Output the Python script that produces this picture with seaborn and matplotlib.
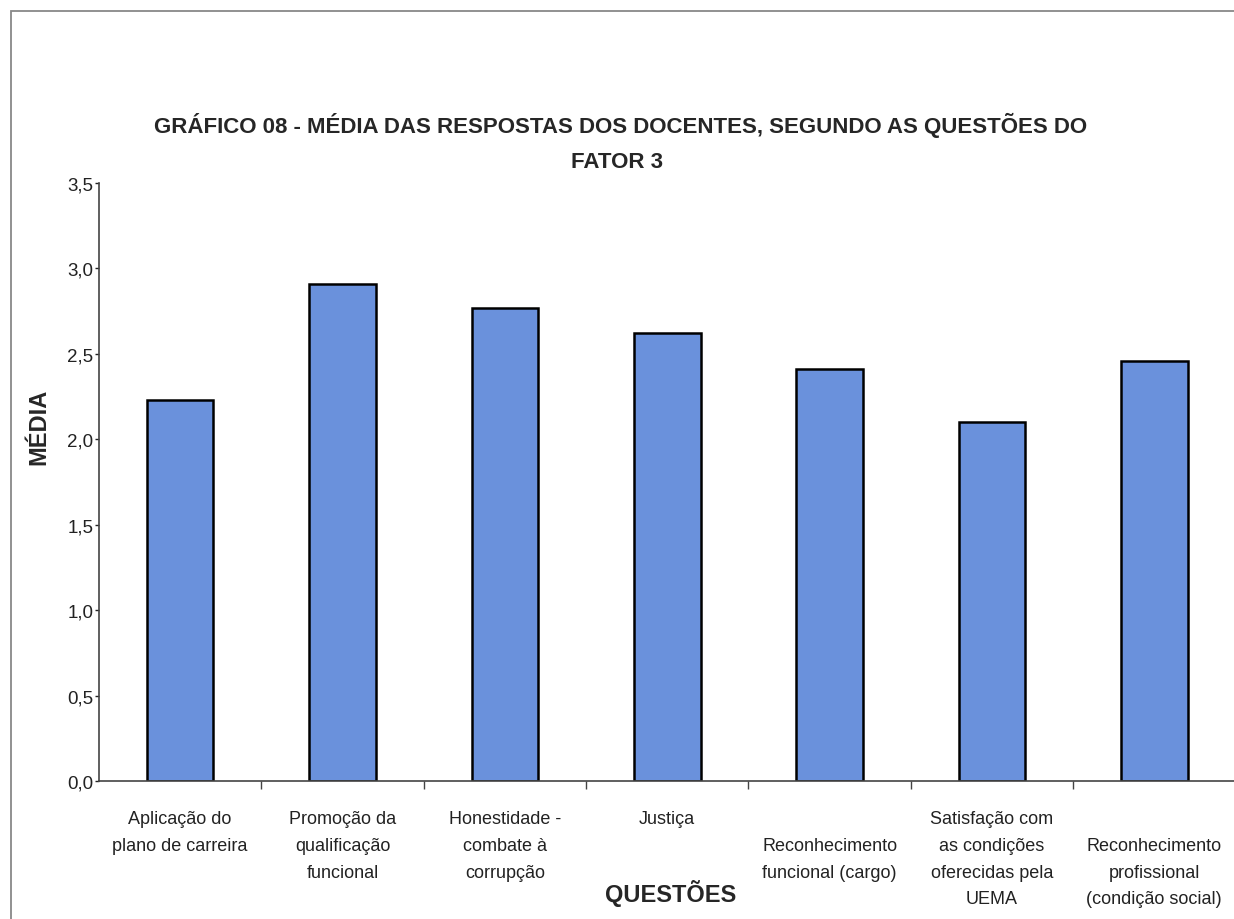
import numpy as np
import matplotlib
matplotlib.use("Agg")
import matplotlib.pyplot as plt
from matplotlib.patches import Rectangle
import seaborn as sns
import pandas as pd

# questoes do fator 3 (blank first line = label pushed down, like in the original)
questoes = [
    "Aplicação do\nplano de carreira",
    "Promoção da\nqualificação\nfuncional",
    "Honestidade -\ncombate à\ncorrupção",
    "Justiça",
    "\nReconhecimento\nfuncional (cargo)",
    "Satisfação com\nas condições\noferecidas pela\nUEMA",
    "\nReconhecimento\nprofissional\n(condição social)",
]
medias = [2.23, 2.91, 2.77, 2.62, 2.41, 2.10, 2.46]
y_ticks = [0.0, 0.5, 1.0, 1.5, 2.0, 2.5, 3.0, 3.5]
y_labels = ["0,0", "0,5", "1,0", "1,5", "2,0", "2,5", "3,0", "3,5"]

titulo1 = "GRÁFICO 08 - MÉDIA DAS RESPOSTAS DOS DOCENTES, SEGUNDO AS QUESTÕES DO"
titulo2 = "FATOR 3"

sns.set_style("white")
plt.rcParams['font.family'] = ['Liberation Sans', 'DejaVu Sans']

df = pd.DataFrame({"questao": questoes, "media": medias})

fig = plt.figure(figsize=(12.34, 9.2), dpi=100)
ax = fig.add_axes([0.0802, 0.15, 0.921, 0.65])

sns.barplot(data=df, x="questao", y="media", color="#6a91dc", saturation=1,
            edgecolor="black", linewidth=1.8, width=0.41, ax=ax)

ax.set_xlim(-0.5, len(questoes) - 0.5)
ax.set_ylim(0, 3.5)
ax.set_yticks(y_ticks)
ax.set_yticklabels(y_labels, fontsize=13.5)
ax.tick_params(axis="y", direction="out", length=3, width=1, pad=1, left=True, colors="#222222")

ax.set_xticks(range(len(questoes)))
ax.set_xticklabels(questoes, fontsize=13, linespacing=1.75, va="top")
ax.tick_params(axis="x", which="major", length=0, pad=21, colors="#222222")
ax.set_xticks(np.arange(0.5, len(questoes) - 0.5, 1), minor=True)
ax.tick_params(axis="x", which="minor", direction="out", length=6, width=1, bottom=True, color="#444444")

for s in ["top", "right"]:
    ax.spines[s].set_visible(False)
for s in ["left", "bottom"]:
    ax.spines[s].set_color("#444444")
    ax.spines[s].set_linewidth(1.2)

ax.set_ylabel("MÉDIA", fontsize=17, fontweight="bold")
ax.yaxis.set_label_coords(-0.043, 0.594, transform=ax.transAxes)
ax.set_xlabel("QUESTÕES", fontsize=17, fontweight="bold")
ax.xaxis.set_label_coords(0.503, -0.164)

fig.text(0.503, 1 - 125 / 920, titulo1, ha="center", va="center", fontsize=16, fontweight="bold")
fig.text(0.5, 1 - 162 / 920, titulo2, ha="center", va="center", fontsize=16, fontweight="bold")

# moldura do grafico
fig.patches.append(Rectangle((0.009, -0.1), 1.2, 1.087, transform=fig.transFigure,
                             fill=False, edgecolor="#888888", linewidth=1.3))

fig.savefig("out.png", dpi=100)
